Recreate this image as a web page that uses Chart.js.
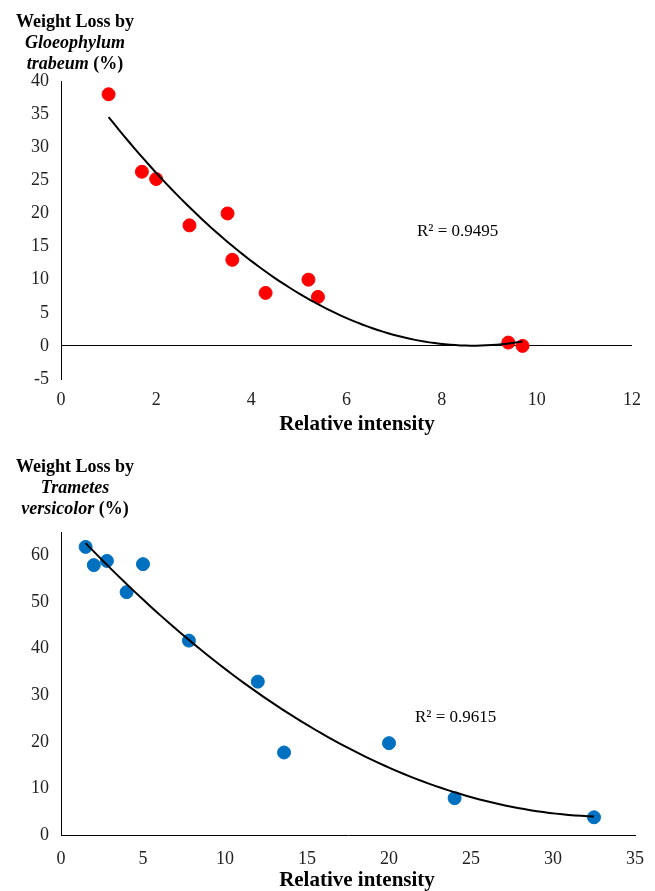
<!DOCTYPE html>
<html>
<head>
<meta charset="utf-8">
<script src="https://cdn.jsdelivr.net/npm/chart.js@4.4.1/dist/chart.umd.min.js"></script>
<style>
  body { margin: 0; background: #fff; }
  .box { position: absolute; left: 0; width: 655px; }
</style>
</head>
<body>
<div class="box" style="top:0;height:445px"><canvas id="graf_1" width="655" height="445"></canvas></div>
<div class="box" style="top:445px;height:446px"><canvas id="graf_2" width="655" height="446"></canvas></div>
<script>
// Gloeophylum trabeum
const gt_x = [1.0, 1.7, 2.0, 2.7, 3.5, 3.6, 4.3, 5.2, 5.4, 9.4, 9.7];
const gt_y = [38.0, 26.3, 25.2, 18.2, 20.0, 13.0, 8.0, 10.0, 7.4, 0.5, 0.0];
// Trametes versicolor
const tv_x = [1.5, 2.0, 2.8, 4.0, 5.0, 7.8, 12.0, 13.6, 20.0, 24.0, 32.5];
const tv_y = [61.8, 57.9, 58.8, 52.1, 58.1, 41.7, 32.9, 17.7, 19.7, 7.9, 3.8];

const r2_gt = 'R² = 0.9495';
const r2_tv = 'R² = 0.9615';
const eixo_x = 'Relative intensity';
// linhas do titulo do eixo y: [texto, italico]
const titulo_gt = [
  [['Weight Loss by', false]],
  [['Gloeophylum', true]],
  [['trabeum', true], [' (%)', false]]
];
const titulo_tv = [
  [['Weight Loss by', false]],
  [['Trametes', true]],
  [['versicolor', true], [' (%)', false]]
];

const FONTE = '"Liberation Serif", "Times New Roman", serif';

// ajuste polinomial de ordem 2 (minimos quadrados), como a linha de tendencia do Excel
function ajuste(xs, ys) {
  let n = xs.length, s1 = 0, s2 = 0, s3 = 0, s4 = 0, t0 = 0, t1 = 0, t2 = 0;
  for (let i = 0; i < n; i++) {
    let x = xs[i], y = ys[i];
    s1 += x; s2 += x * x; s3 += x * x * x; s4 += x * x * x * x;
    t0 += y; t1 += x * y; t2 += x * x * y;
  }
  let det = (m) => m[0][0] * (m[1][1] * m[2][2] - m[1][2] * m[2][1])
    - m[0][1] * (m[1][0] * m[2][2] - m[1][2] * m[2][0])
    + m[0][2] * (m[1][0] * m[2][1] - m[1][1] * m[2][0]);
  let M = [[n, s1, s2], [s1, s2, s3], [s2, s3, s4]];
  let T = [t0, t1, t2];
  let D = det(M);
  let coef = [0, 1, 2].map(k => det(M.map((row, r) => row.map((v, c) => c === k ? T[r] : v))) / D);
  let lo = Math.min(...xs), hi = Math.max(...xs);
  let pts = [];
  for (let i = 0; i <= 80; i++) {
    let x = lo + (hi - lo) * i / 80;
    pts.push({ x: x, y: coef[0] + coef[1] * x + coef[2] * x * x });
  }
  return pts;
}

function textos(titulo, r2, r2pos) {
  return {
    id: 'textos',
    afterDraw(chart) {
      const c = chart.ctx;
      c.save();
      c.fillStyle = '#000';
      c.textBaseline = 'middle';
      // titulo do eixo y (horizontal, acima do eixo)
      titulo.forEach((linha, i) => {
        let w = 0;
        linha.forEach(p => {
          c.font = (p[1] ? 'italic ' : '') + 'bold 18px ' + FONTE;
          w += c.measureText(p[0]).width;
        });
        let x = 75 - w / 2;
        let y = 22 + i * 21;
        c.textAlign = 'left';
        linha.forEach(p => {
          c.font = (p[1] ? 'italic ' : '') + 'bold 18px ' + FONTE;
          c.fillText(p[0], x, y);
          x += c.measureText(p[0]).width;
        });
      });
      // titulo do eixo x
      c.font = 'bold 21px ' + FONTE;
      c.textAlign = 'center';
      const a = chart.chartArea;
      c.fillText(eixo_x, 357, a.bottom + 46);
      // R²
      c.font = '17px ' + FONTE;
      c.textAlign = 'left';
      c.fillText(r2, r2pos[0], r2pos[1]);
      c.restore();
    }
  };
}

function grafico(id, xs, ys, cor, cfg) {
  return new Chart(document.getElementById(id), {
    type: 'scatter',
    data: {
      datasets: [
        {
          data: ajuste(xs, ys),
          showLine: true,
          borderColor: '#000',
          borderWidth: 2,
          pointRadius: 0,
          order: 0
        },
        {
          data: xs.map((x, i) => ({ x: x, y: ys[i] })),
          backgroundColor: cor,
          borderColor: cor,
          pointRadius: 6.5,
          order: 1
        }
      ]
    },
    options: {
      responsive: false,
      animation: false,
      layout: { padding: { left: 0, right: cfg.direita, top: cfg.topo, bottom: 0 } },
      plugins: { legend: { display: false }, tooltip: { enabled: false } },
      scales: {
        x: {
          type: 'linear',
          min: cfg.xmin, max: cfg.xmax,
          grid: { display: false, drawTicks: false },
          border: { display: cfg.bordaX, color: '#000', width: 1 },
          ticks: { stepSize: cfg.xstep, padding: cfg.padX, color: '#222', font: { family: FONTE, size: 18 } },
          afterFit: (s) => { s.height = cfg.alturaX; s.paddingRight = 0; s.paddingLeft = 0; }
        },
        y: {
          min: cfg.ymin, max: cfg.ymax,
          grid: {
            drawTicks: false,
            color: (ctx) => (ctx.tick && ctx.tick.value === 0 && !cfg.bordaX) ? '#000' : 'transparent'
          },
          border: { display: true, color: '#000', width: 1 },
          ticks: {
            stepSize: cfg.ystep, padding: 12, color: '#222', font: { family: FONTE, size: 18 },
            callback: (v) => (v % cfg.ystep === 0 ? v : '')
          },
          afterFit: (s) => { s.width = 61; }
        }
      }
    },
    plugins: [textos(cfg.titulo, cfg.r2, cfg.r2pos)]
  });
}

let graf_1 = grafico('graf_1', gt_x, gt_y, '#FF0000', {
  xmin: 0, xmax: 12, xstep: 2, ymin: -5, ymax: 40, ystep: 5,
  direita: 23, topo: 81, alturaX: 66, bordaX: false, padX: 10,
  titulo: titulo_gt, r2: r2_gt, r2pos: [417, 232]
});

let graf_2 = grafico('graf_2', tv_x, tv_y, '#0070C0', {
  xmin: 0, xmax: 35, xstep: 5, ymin: 0, ymax: 65, ystep: 10,
  direita: 20, topo: 87, alturaX: 56, bordaX: true, padX: 13,
  titulo: titulo_tv, r2: r2_tv, r2pos: [415, 273]
});
</script>
</body>
</html>
